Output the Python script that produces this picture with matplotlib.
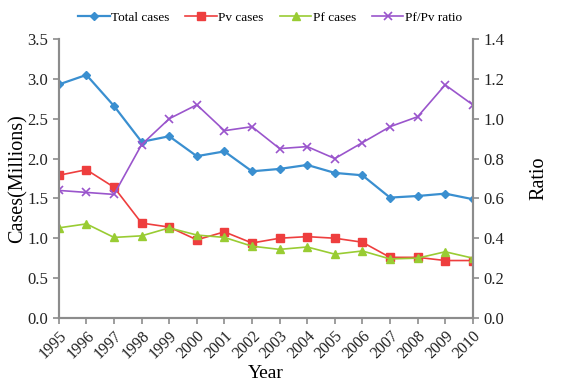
import matplotlib
matplotlib.use("Agg")
import matplotlib.pyplot as plt

plt.rcParams["font.family"] = ["Liberation Serif", "DejaVu Serif"]

# Case counts (millions) and Pf/Pv ratio by year
years = list(range(1995, 2011))
total_cases = [2.93, 3.05, 2.66, 2.21, 2.28, 2.03, 2.09, 1.84, 1.87, 1.92, 1.82, 1.79, 1.51, 1.53, 1.56, 1.49]
pv_cases = [1.79, 1.86, 1.64, 1.19, 1.14, 0.98, 1.08, 0.94, 1.00, 1.02, 1.00, 0.95, 0.76, 0.76, 0.72, 0.72]
pf_cases = [1.13, 1.18, 1.01, 1.03, 1.13, 1.04, 1.01, 0.90, 0.86, 0.89, 0.80, 0.84, 0.74, 0.75, 0.83, 0.75]
pf_pv_ratio = [0.64, 0.63, 0.62, 0.87, 1.00, 1.07, 0.94, 0.96, 0.85, 0.86, 0.80, 0.88, 0.96, 1.01, 1.17, 1.07]

fig = plt.figure(figsize=(5.71, 3.83), dpi=100)
ax = fig.add_axes([0.103, 0.170, 0.725, 0.728])
ax2 = ax.twinx()

spine_c = "#8c8c8c"
l1, = ax.plot(years, total_cases, color="#3a8fd0", marker="D", markersize=4.5, lw=1.6, label="Total cases")
l2, = ax.plot(years, pv_cases, color="#ee3e3e", marker="s", markersize=6, lw=1.2, label="Pv cases")
l3, = ax.plot(years, pf_cases, color="#99cc33", marker="^", markersize=6, lw=1.2, label="Pf cases")
l4, = ax2.plot(years, pf_pv_ratio, color="#9a55cc", marker="x", markersize=6, mew=1.2, lw=1.2, label="Pf/Pv ratio")

ax.set_xlim(1995, 2010)
ax.set_ylim(0, 3.5)
ax2.set_ylim(0, 1.4)
ax.set_xticks(years)
ax.set_xticklabels([str(y) for y in years], rotation=45, ha="right", rotation_mode="anchor", fontsize=11.5)
ax.set_yticks([0, 0.5, 1.0, 1.5, 2.0, 2.5, 3.0, 3.5])
ax.set_yticklabels([f"{v:.1f}" for v in ax.get_yticks()], fontsize=12)
ax2.set_yticks([0, 0.2, 0.4, 0.6, 0.8, 1.0, 1.2, 1.4])
ax2.set_yticklabels([f"{v:.1f}" for v in ax2.get_yticks()], fontsize=12)

for a in (ax, ax2):
    a.spines["top"].set_visible(False)
    for s in ("left", "right", "bottom"):
        a.spines[s].set_color(spine_c)
        a.spines[s].set_linewidth(1.5)
    a.tick_params(colors=spine_c, labelcolor="#222222", width=1.2, length=4)

ax.set_xlabel("Year", fontsize=14, labelpad=2)
ax.set_ylabel("Cases(Millions)", fontsize=14.5, labelpad=0)
ax2.set_ylabel("Ratio", fontsize=14.5, labelpad=18)

fig.legend(handles=[l1, l2, l3, l4], loc="upper center", bbox_to_anchor=(0.473, 1.0),
           ncol=4, frameon=False, fontsize=9.5, handlelength=2.4, columnspacing=1.2,
           handletextpad=0.1, markerscale=0.85)

fig.savefig("out.png", dpi=100)
